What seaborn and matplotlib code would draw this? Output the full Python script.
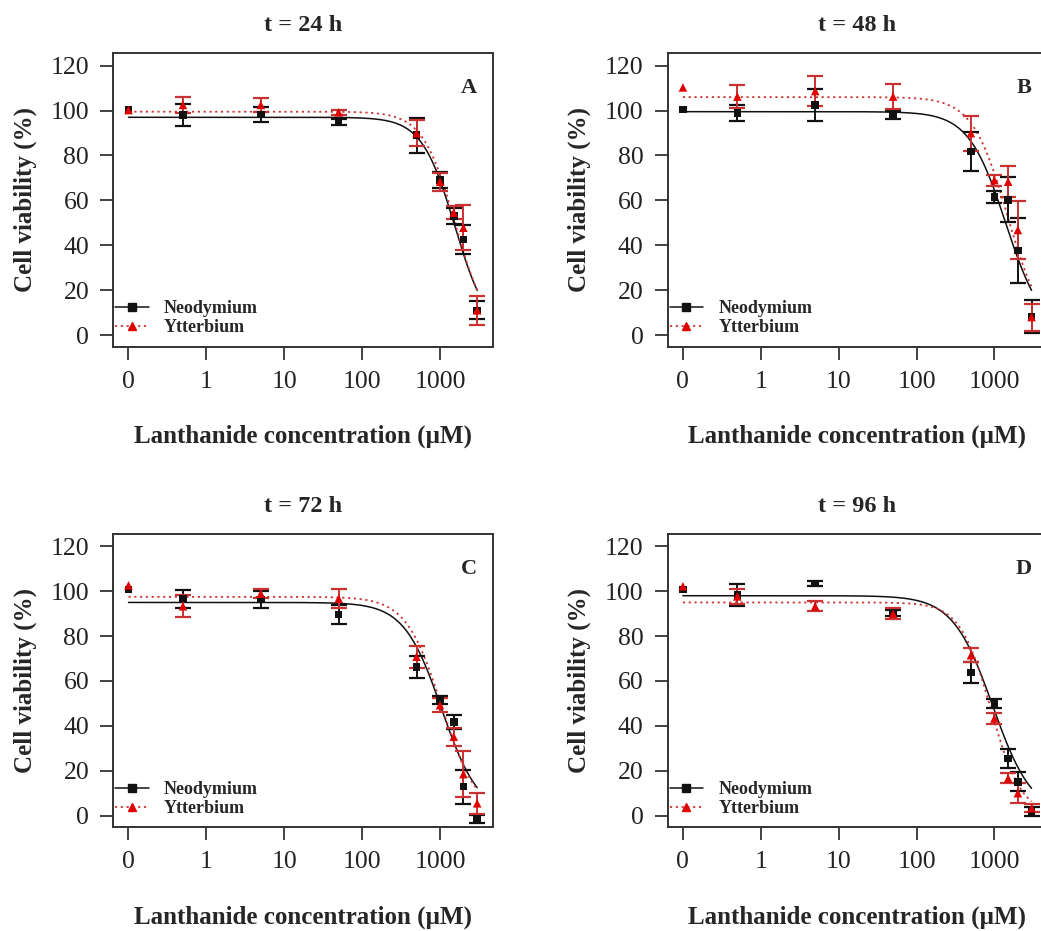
import numpy as np
import pandas as pd
import matplotlib
matplotlib.use("Agg")
import matplotlib.pyplot as plt
from matplotlib.lines import Line2D
import seaborn as sns

# ---------------- data ----------------
conc = [0, 0.5, 5, 50, 500, 1000, 1500, 2000, 3000]   # µM (0 drawn at 0.1)
zero_pos = 0.1
tick_vals = [0.1, 1, 10, 100, 1000]
tick_labels = ["0", "1", "10", "100", "1000"]
y_ticks = [0, 20, 40, 60, 80, 100, 120]

titles = ["t = 24 h", "t = 48 h", "t = 72 h", "t = 96 h"]
letters = ["A", "B", "C", "D"]
series_names = ["Neodymium", "Ytterbium"]

nd_A = [100.5, 98.0, 98.3, 95.0, 89.0, 69.0, 53.0, 42.6, 11.0]
nd_A_sd = [np.nan, 5.0, 3.3, 1.3, 7.8, 3.7, 3.4, 6.4, 4.0]
yb_A = [100.2, 102.5, 102.5, 99.2, 89.9, 68.3, 54.5, 47.8, 11.0]
yb_A_sd = [np.nan, 3.7, 3.3, 1.2, 5.8, 4.0, 3.0, 10.0, 6.5]

nd_B = [100.5, 99.0, 102.5, 98.0, 81.7, 61.6, 60.2, 37.6, 8.2]
nd_B_sd = [np.nan, 3.5, 7.0, 1.7, 8.7, 2.6, 10.0, 14.6, 7.4]
yb_B = [110.3, 106.2, 108.7, 106.2, 89.9, 69.0, 68.3, 46.8, 8.0]
yb_B_sd = [np.nan, 5.0, 6.7, 5.6, 7.7, 2.5, 7.0, 13.0, 6.0]

nd_C = [100.7, 96.7, 96.3, 89.7, 66.3, 51.5, 41.8, 12.9, -1.6]
nd_C_sd = [np.nan, 4.0, 3.7, 4.2, 4.9, 1.9, 3.1, 7.6, 1.7]
yb_C = [102.6, 93.3, 98.9, 96.7, 70.8, 49.2, 35.2, 18.5, 5.5]
yb_C_sd = [np.nan, 5.0, 2.1, 4.2, 5.0, 3.0, 4.0, 10.3, 4.6]

nd_D = [100.7, 98.2, 103.4, 90.3, 63.8, 50.0, 25.5, 15.1, 1.8]
nd_D_sd = [np.nan, 5.0, 1.1, 1.2, 4.5, 2.0, 4.4, 4.2, 2.0]
yb_D = [102.2, 97.7, 93.3, 90.0, 71.5, 43.3, 16.6, 10.0, 3.3]
yb_D_sd = [np.nan, 3.3, 2.2, 2.4, 3.0, 2.5, 2.2, 4.5, 1.7]

# fitted log-logistic curves: (upper limit, slope, EC50 in µM), lower limit 0
fit_nd = [(97.0, 2.05, 1550), (99.5, 1.82, 1400), (95.0, 1.8, 1050), (98.0, 1.7, 950)]
fit_yb = [(99.5, 2.1, 1560), (106.0, 1.93, 1475), (97.5, 1.9, 1050), (95.0, 2.2, 900)]

nd_means = [nd_A, nd_B, nd_C, nd_D]
nd_sds = [nd_A_sd, nd_B_sd, nd_C_sd, nd_D_sd]
yb_means = [yb_A, yb_B, yb_C, yb_D]
yb_sds = [yb_A_sd, yb_B_sd, yb_C_sd, yb_D_sd]

# ---------------- style ----------------
sns.set_style("ticks")
plt.rcParams["font.family"] = ["Liberation Serif", "DejaVu Serif"]

BLACK = "#111111"
RED_PT = "#E00000"
RED_BAR = "#C83232"
RED_LINE = "#CC3535"

W, H = 1041, 931
fig = plt.figure(figsize=(W / 100, H / 100), dpi=100)

def box(left, top, right, bottom):
    return [left / W, 1 - bottom / H, (right - left) / W, (bottom - top) / H]

boxes = [box(113.3, 53.3, 492.7, 346.7), box(667.7, 53.3, 1047.1, 346.7),
         box(113.3, 534.0, 492.7, 827.3), box(667.7, 534.0, 1047.1, 827.3)]

x_plot = [zero_pos if c == 0 else c for c in conc]
x_curve = np.geomspace(zero_pos, max(conc), 400)

def loglogistic(x, d, b, e):
    return d / (1 + np.exp(b * (np.log(x) - np.log(e))))

for i in range(4):
    ax = fig.add_axes(boxes[i])
    df = pd.DataFrame({
        "conc": x_plot * 2,
        "viab": nd_means[i] + yb_means[i],
        "sd": nd_sds[i] + yb_sds[i],
        "metal": [series_names[0]] * len(conc) + [series_names[1]] * len(conc),
    })
    dn = df[df.metal == series_names[0]]
    dy = df[df.metal == series_names[1]]

    # fitted curves
    cn = pd.DataFrame({"x": x_curve, "y": loglogistic(x_curve, *fit_nd[i])})
    cy = pd.DataFrame({"x": x_curve, "y": loglogistic(x_curve, *fit_yb[i])})
    sns.lineplot(data=cn, x="x", y="y", ax=ax, color=BLACK, lw=1.1,
                 estimator=None, sort=False, zorder=3)
    sns.lineplot(data=cy, x="x", y="y", ax=ax, color=RED_LINE, lw=1.3,
                 estimator=None, sort=False, zorder=3, linestyle=(0, (1.2, 2.0)))

    # error bars
    ax.errorbar(dn["conc"], dn["viab"], yerr=dn["sd"], fmt="none", ecolor=BLACK,
                elinewidth=1.4, capsize=5.5, capthick=1.6, zorder=4)
    ax.errorbar(dy["conc"], dy["viab"], yerr=dy["sd"], fmt="none", ecolor=RED_BAR,
                elinewidth=1.4, capsize=5.5, capthick=1.6, zorder=5)

    # points
    sns.scatterplot(data=dn, x="conc", y="viab", ax=ax, marker="s", s=30,
                    color=BLACK, edgecolor="none", zorder=6)
    sns.scatterplot(data=dy, x="conc", y="viab", ax=ax, marker="^", s=38,
                    color=RED_PT, edgecolor="none", zorder=7)

    ax.set_xscale("log")
    ax.set_xlim(0.0638, 4750)
    ax.set_ylim(-5.2, 125.5)
    ax.set_xticks(tick_vals)
    ax.set_xticklabels(tick_labels)
    ax.xaxis.set_minor_locator(matplotlib.ticker.NullLocator())
    ax.set_yticks(y_ticks)
    ax.tick_params(axis="both", which="major", direction="out", length=9.4,
                   width=1.2, pad=8.0, labelsize=18.5, colors="#222222")
    for sp in ax.spines.values():
        sp.set_visible(True)
        sp.set_linewidth(1.4)
        sp.set_color("#333333")

    ax.set_xlabel("Lanthanide concentration (µM)", fontsize=18, fontweight="bold")
    ax.set_ylabel("Cell viability (%)", fontsize=18, fontweight="bold")
    ax.xaxis.set_label_coords(0.5, -90 / 293.4)
    ax.xaxis.label.set_va("center")
    ax.yaxis.set_label_coords(-88 / 379.4, 0.5)
    ax.yaxis.label.set_va("center")

    ax.text(0.5, 1 + 28 / 293.4, titles[i], transform=ax.transAxes, ha="center",
            va="center", fontsize=17.5, fontweight="bold")
    ax.text(0.938, 0.882, letters[i], transform=ax.transAxes, ha="center",
            va="center", fontsize=16, fontweight="bold")

    handles = [
        Line2D([], [], color=BLACK, lw=1.1, marker="s", markersize=5.5),
        Line2D([], [], color=RED_LINE, lw=1.3, linestyle=(0, (1.2, 2.0)),
               marker="^", markersize=6, markerfacecolor=RED_PT, markeredgecolor=RED_PT),
    ]
    ax.legend(handles, series_names, loc="lower left",
              bbox_to_anchor=(0.005, 0.035), frameon=False, borderpad=0,
              borderaxespad=0, handlelength=1.85, handletextpad=0.85,
              labelspacing=0.12, prop={"weight": "bold", "size": 13})

fig.savefig("out.png", dpi=100)
